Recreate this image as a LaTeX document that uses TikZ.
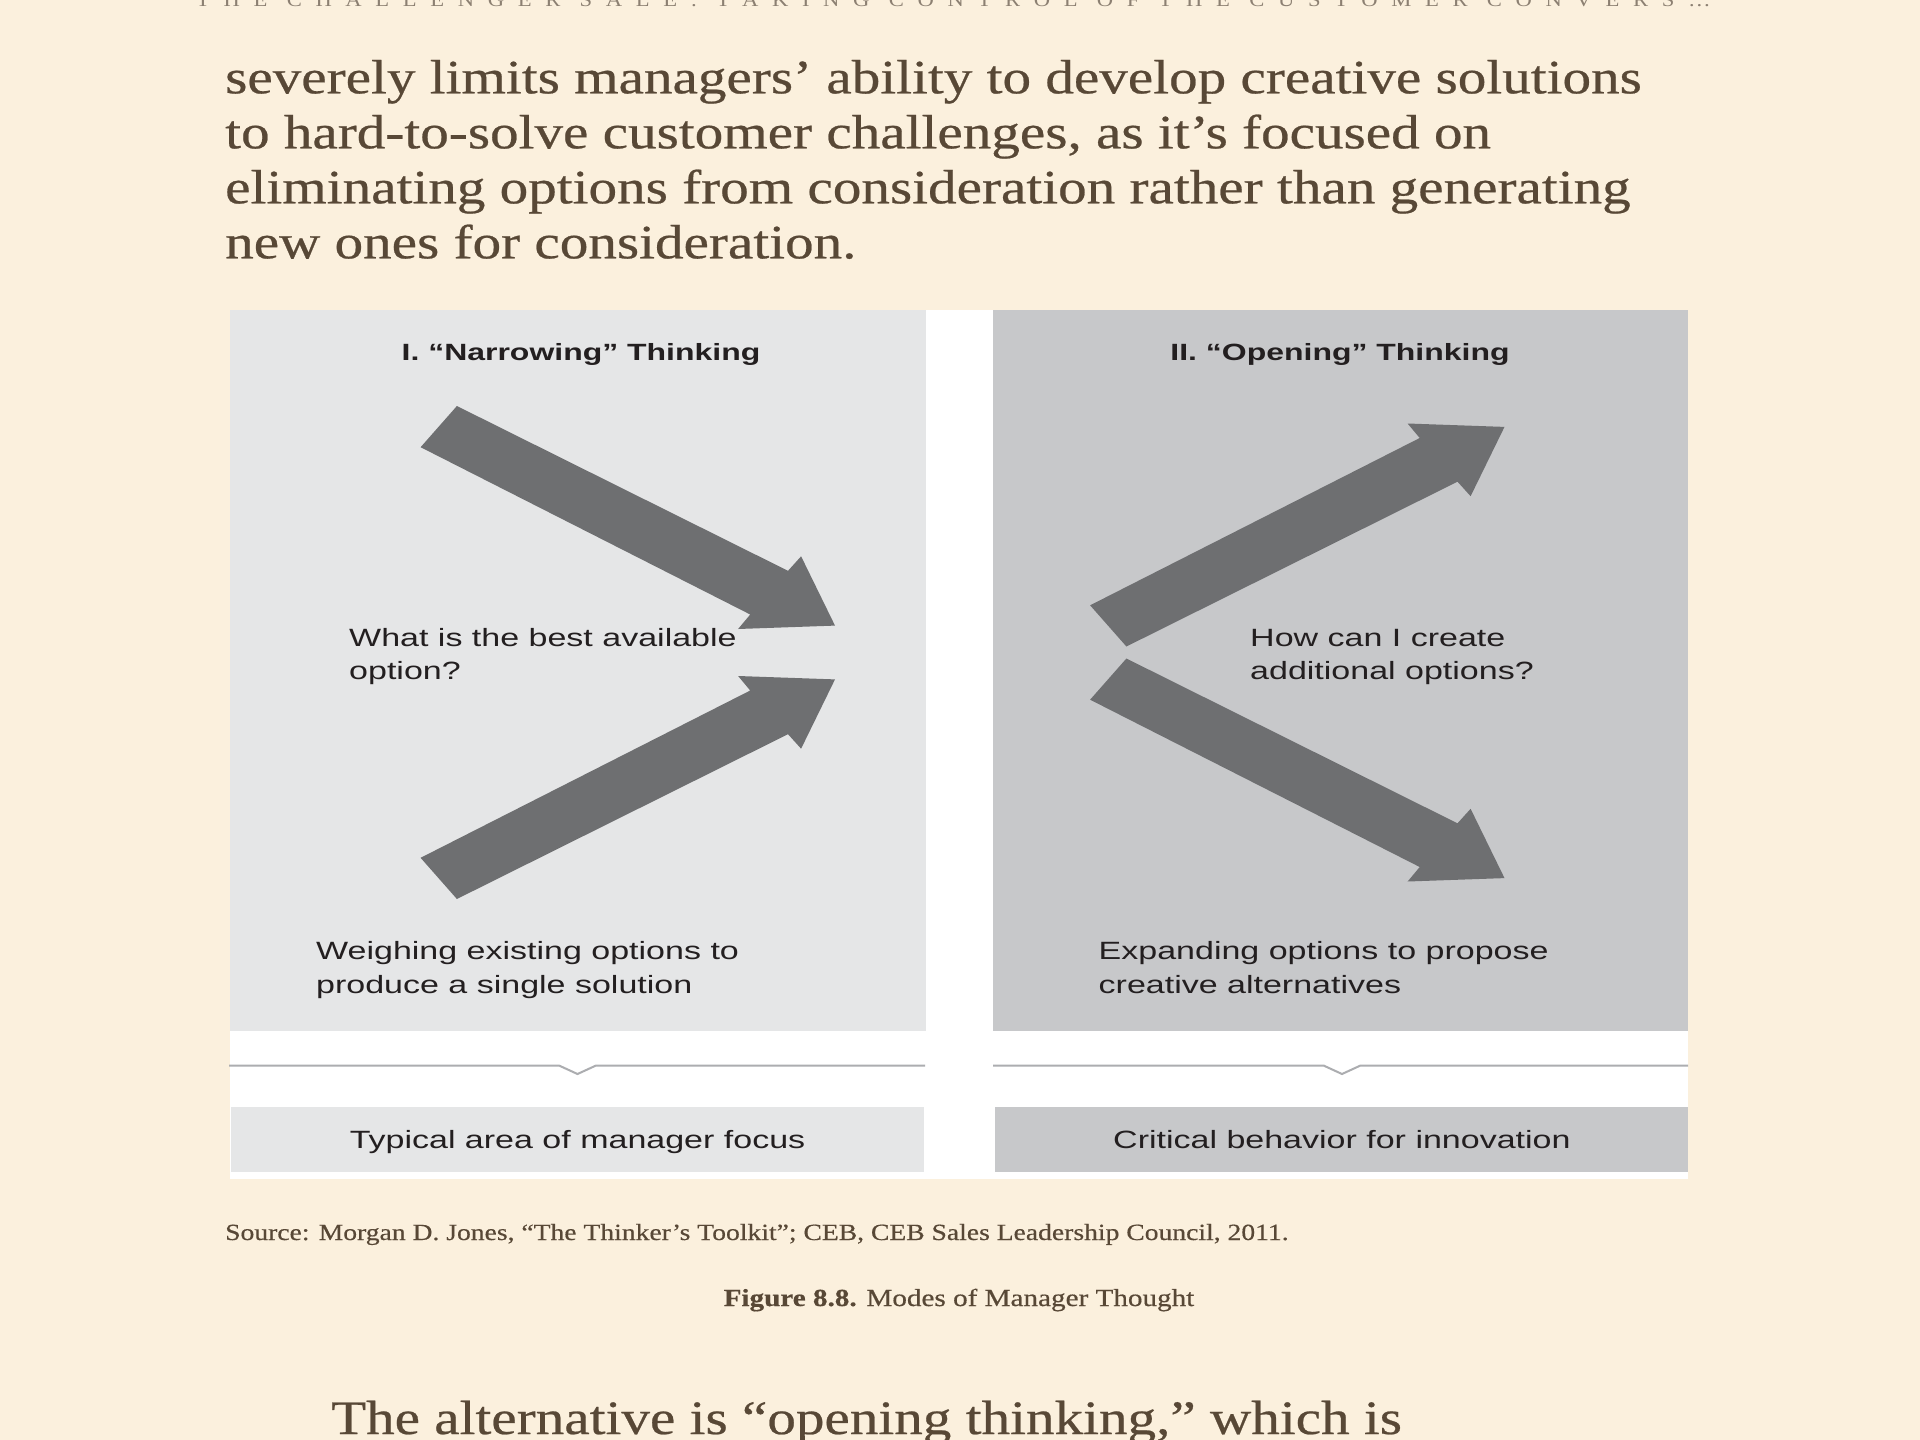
\documentclass[tikz,border=0pt]{standalone}
\usepackage{fontspec}
\setmainfont[FakeStretch=1.19,FakeBold=0.5]{Liberation Serif}
\newfontfamily\figfont[FakeStretch=1.36]{Liberation Sans}
\newfontfamily\runfont[FakeStretch=1.16,LetterSpace=70]{Liberation Serif}
\usetikzlibrary{positioning}

\definecolor{paper}{RGB}{251,240,221}
\definecolor{ink}{RGB}{88,72,54}
\definecolor{runink}{RGB}{140,128,114}
\definecolor{lightpanel}{RGB}{229,230,231}
\definecolor{darkpanel}{RGB}{199,200,202}
\definecolor{arrowgray}{RGB}{110,111,113}
\definecolor{figink}{RGB}{35,31,32}
\definecolor{rulegray}{RGB}{172,173,176}

\tikzset{
  panel/.style={rectangle,inner sep=0pt,minimum height=721pt},
  heading/.style={font=\figfont\bfseries\fontsize{23.5}{29}\selectfont,text=figink,anchor=base,inner sep=0pt},
  question/.style={font=\figfont\fontsize{25}{33.5}\selectfont,text=figink,align=left,anchor=base west,inner sep=0pt},
  focusbox/.style={rectangle,inner sep=0pt,minimum width=693pt,minimum height=65pt,
    text height=18pt,text depth=0pt,font=\figfont\fontsize{25}{30}\selectfont,text=figink},
  bodytext/.style={font=\fontsize{48}{55}\selectfont,text=ink,align=left,anchor=base west,inner sep=0pt},
  smalltext/.style={text=ink,inner sep=0pt},
  bracket/.style={draw=rulegray,line width=2pt},
  bigarrow/.pic={
    \fill[arrowgray] (-378.1,-219.6) -- (-47,-54.8) -- (-33.9,-69.3) -- (0,0)
      -- (-96.9,3.4) -- (-84.8,-11.1) -- (-414.4,-178.4) -- cycle;
  },
}

\begin{document}
\begin{tikzpicture}[x=1pt,y=-1pt]

\useasboundingbox (0,0) rectangle (1920,1440);
\fill[paper] (0,0) rectangle (1920,1440);

% page text around the figure
\node[font=\runfont\fontsize{19.5}{22}\selectfont,text=runink,anchor=base west,inner sep=0pt]
  (running) at (196,6) {THE CHALLENGER SALE: TAKING CONTROL OF THE CUSTOMER CONVERS…};

\node[bodytext] (para) at (225,258.3)
  {severely limits managers’ ability to develop creative solutions\\
   to hard-to-solve customer challenges, as it’s focused on\\
   eliminating options from consideration rather than generating\\
   new ones for consideration.};

% the figure
\fill[white] (230,310) rectangle (1688,1179);

\node[panel,fill=lightpanel,minimum width=696pt] (lpanel) at (578,670.5) {};
\node[panel,fill=darkpanel,minimum width=695pt,right=67pt of lpanel] (rpanel) {};

\node[heading] (ltitle) at (581,360) {I. “Narrowing” Thinking};
\node[heading] (rtitle) at (1340,360) {II. “Opening” Thinking};

\pic at (835,625.6) {bigarrow};
\pic[yscale=-1] at (835,679.4) {bigarrow};
\pic[yscale=-1] at (1504.5,426.9) {bigarrow};
\pic at (1504.5,878.1) {bigarrow};

\node[question] (lask) at (349,679.5) {What is the best available\\option?};
\node[question] (lnote) at (316,993) {Weighing existing options to\\produce a single solution};
\node[question] (rask) at (1250,679.5) {How can I create\\additional options?};
\node[question] (rnote) at (1098.5,993) {Expanding options to propose\\creative alternatives};

\draw[bracket] (229,1065.5) -- (559,1065.5) -- (577.5,1074) -- (596,1065.5) -- (925,1065.5);
\draw[bracket] (993,1065.5) -- (1323.5,1065.5) -- (1342,1074) -- (1360.5,1065.5) -- (1688,1065.5);

\node[focusbox,fill=lightpanel] (lfocus) at (577.5,1139.5) {Typical area of manager focus};
\node[focusbox,fill=darkpanel,right=71pt of lfocus] (rfocus) {Critical behavior for innovation};

% source and caption
\node[smalltext,font=\fontsize{23.2}{28}\selectfont,anchor=base west] (source) at (225,1240)
  {Source: Morgan D. Jones, “The Thinker’s Toolkit”; CEB, CEB Sales Leadership Council, 2011.};
\node[smalltext,font=\fontsize{24.5}{28}\selectfont,anchor=base] (caption) at (959,1306)
  {\textbf{Figure 8.8.} Modes of Manager Thought};

\node[bodytext] (nextpara) at (331,1434) {The alternative is “opening thinking,” which is};

\end{tikzpicture}
\end{document}
